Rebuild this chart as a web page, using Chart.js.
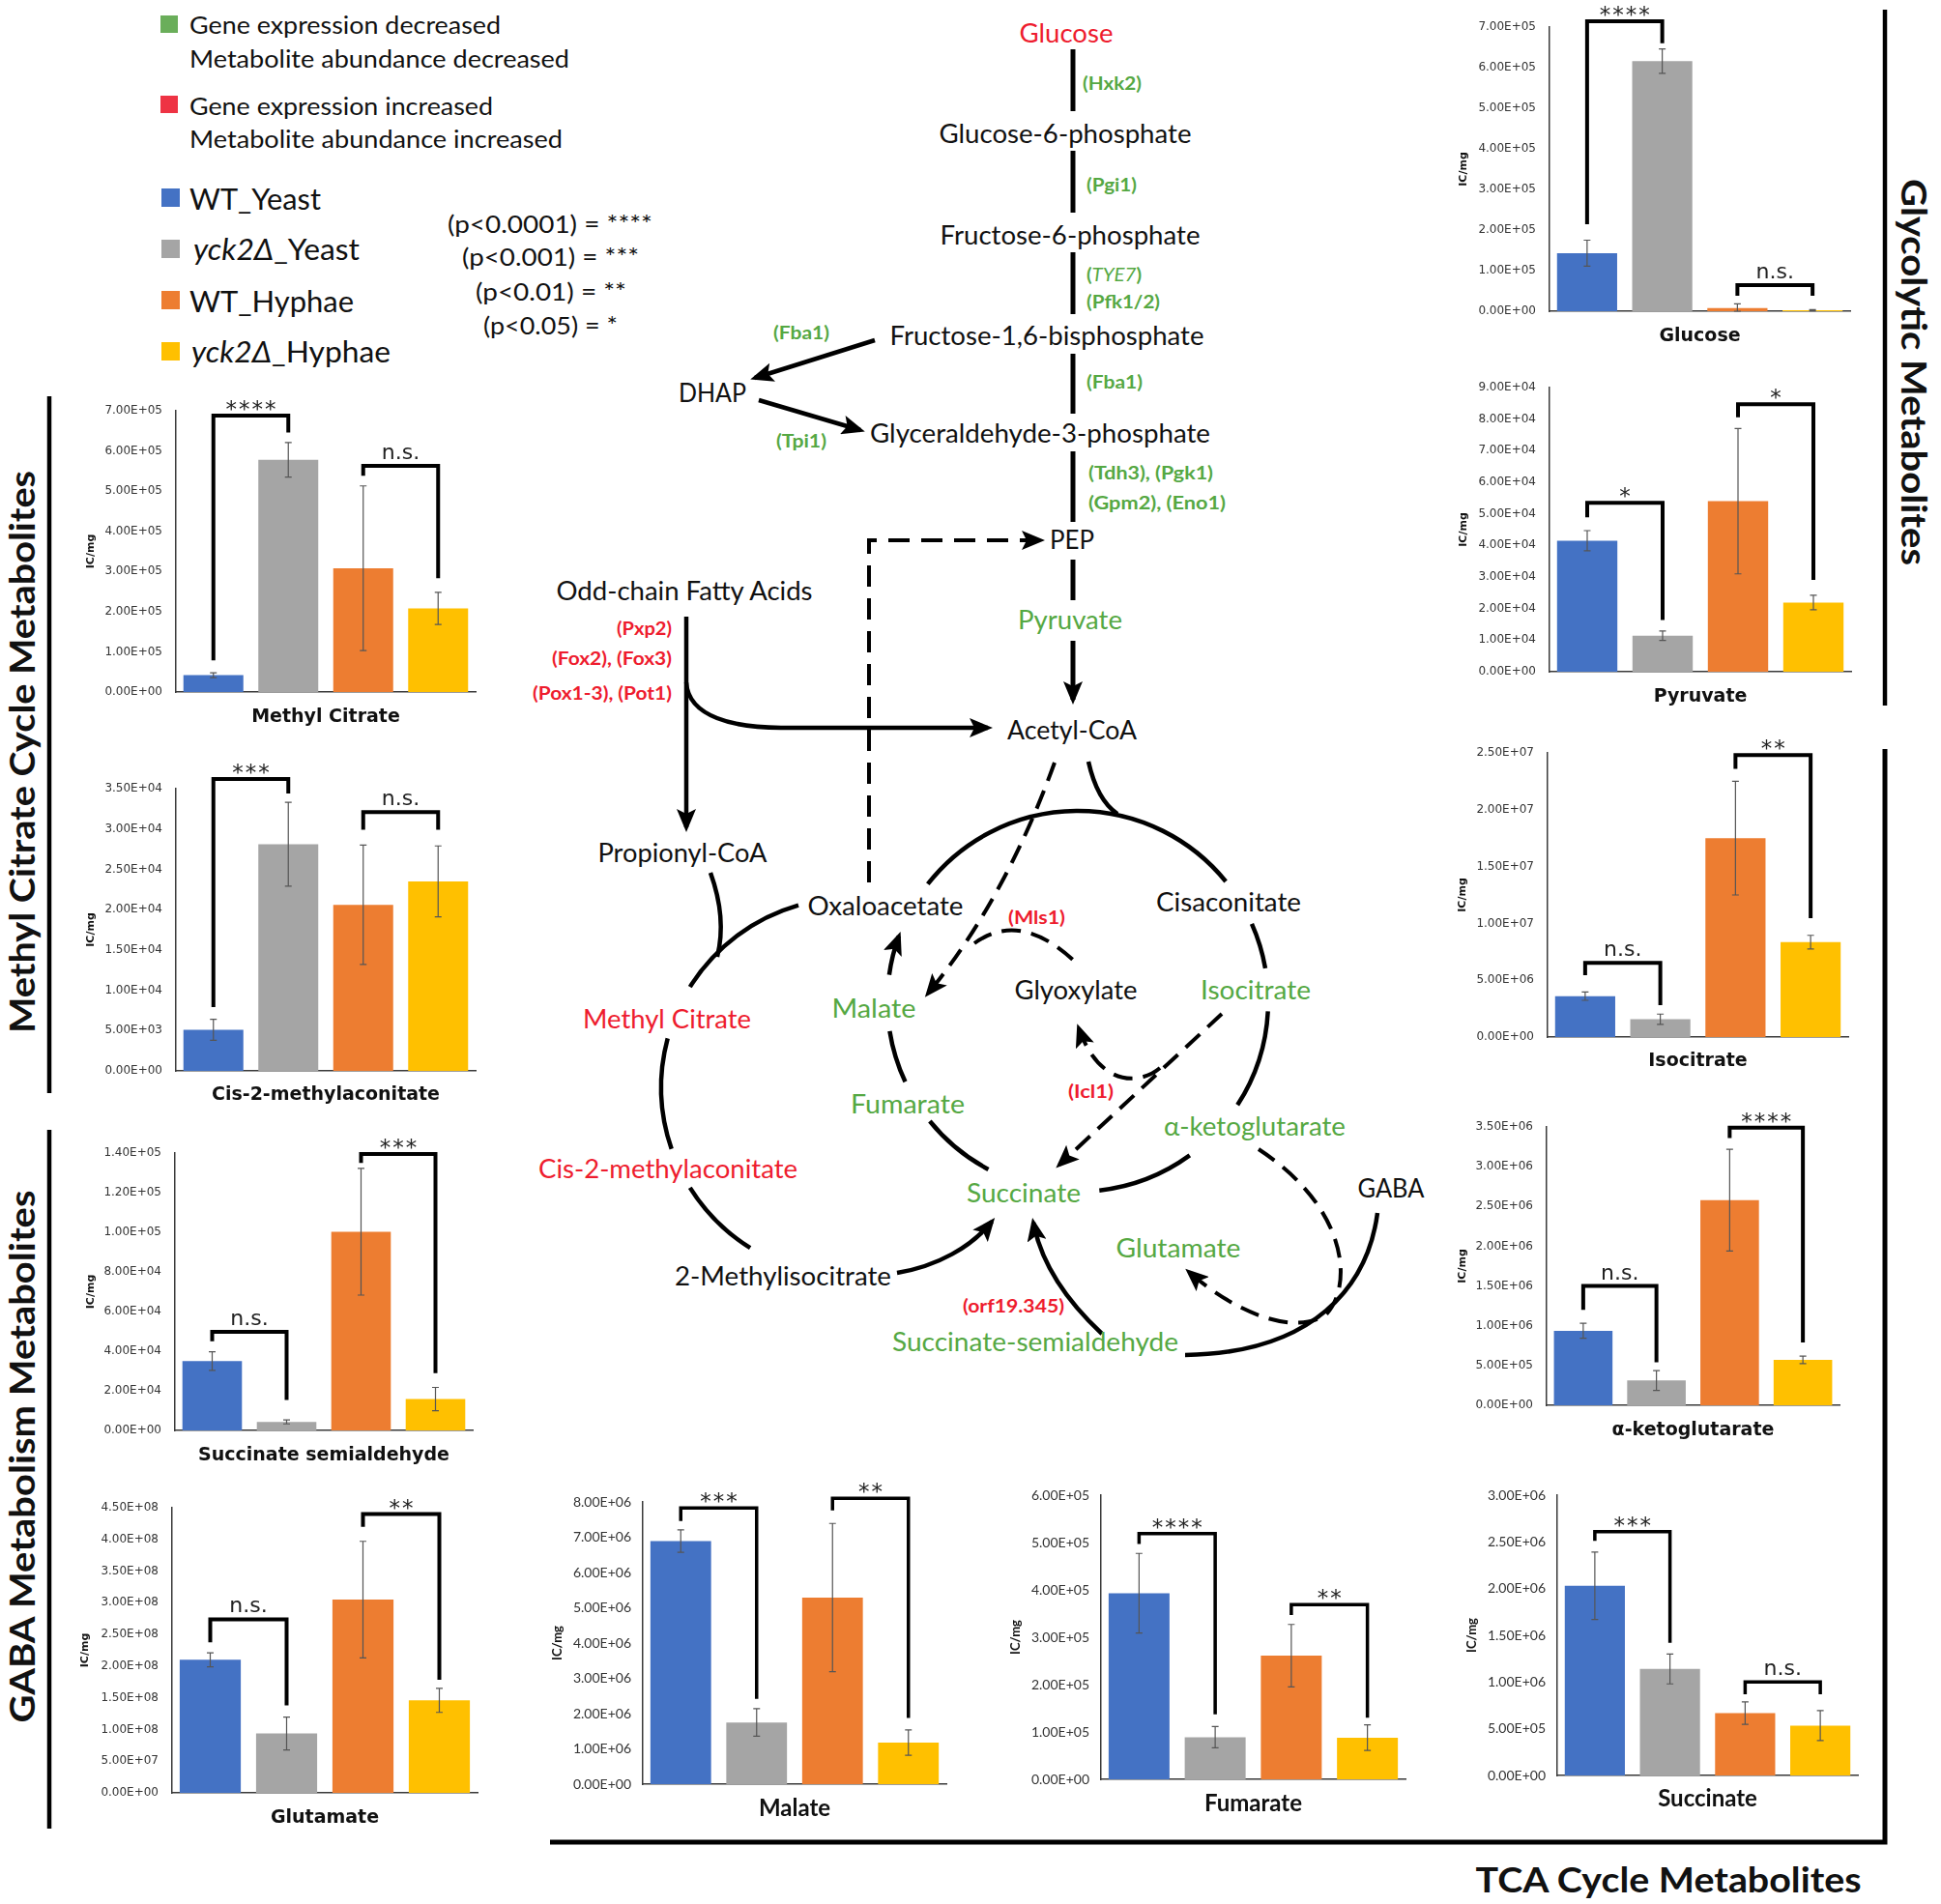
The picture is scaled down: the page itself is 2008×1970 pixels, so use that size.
<!DOCTYPE html>
<html>
<head>
<meta charset="utf-8">
<script src="https://cdn.jsdelivr.net/npm/chart.js@4.4.1/dist/chart.umd.min.js"></script>
<style>
html,body{margin:0;padding:0;background:#fff;}
#page{position:relative;width:2008px;height:1970px;overflow:hidden;background:#fff;}
#art{position:absolute;left:0;top:0;}
#page canvas{position:absolute;}
</style>
</head>
<body>
<div id="page"><svg id="art" width="2008" height="1970" xmlns="http://www.w3.org/2000/svg"></svg></div>
<script>
// ---- data ----
const metabolites = ['Glucose','Pyruvate','Methyl Citrate','Cis-2-methylaconitate','Succinate semialdehyde','Glutamate','Isocitrate','α-ketoglutarate','Malate','Fumarate','Succinate'];
const groups = ['WT_Yeast','yck2Δ_Yeast','WT_Hyphae','yck2Δ_Hyphae'];

const wtYeast    = [1.43e5, 4.15e4, 4.2e4, 5.1e3, 3.5e4, 2.10e8, 3.6e6, 9.37e5, 6.89e6, 3.93e5, 2.03e6];
const yckYeast   = [6.16e5, 1.14e4, 5.78e5, 2.81e4, 4.3e3, 9.37e7, 1.57e6, 3.12e5, 1.75e6, 8.9e4, 1.14e6];
const wtHyphae   = [8e3, 5.4e4, 3.08e5, 2.06e4, 1.003e5, 3.05e8, 1.75e7, 2.58e6, 5.29e6, 2.61e5, 6.68e5];
const yckHyphae  = [2.2e3, 2.19e4, 2.08e5, 2.35e4, 1.58e4, 1.46e8, 8.35e6, 5.72e5, 1.18e6, 8.8e4, 5.34e5];

const errWtYeast   = [3.2e4, 3.2e3, 6e3, 1.3e3, 4.7e3, 1.1e7, 3.7e5, 9.5e4, 3.2e5, 8.4e4, 3.6e5];
const errYckYeast  = [3e4, 1.5e3, 4.3e4, 5.2e3, 1e3, 2.6e7, 4.5e5, 1.25e5, 3.9e5, 2.25e4, 1.6e5];
const errWtHyphae  = [1e4, 2.3e4, 2.05e5, 7.4e3, 3.2e4, 9.2e7, 5e6, 6.4e5, 2.1e6, 6.6e4, 1.2e5];
const errYckHyphae = [1.5e3, 2.3e3, 4e4, 4.4e3, 5.9e3, 1.9e7, 6e5, 4.7e4, 3.6e5, 2.7e4, 1.6e5];

const yMax  = [7e5, 9e4, 7e5, 3.5e4, 1.4e5, 4.5e8, 2.5e7, 3.5e6, 8e6, 6e5, 3e6];
const yStep = [1e5, 1e4, 1e5, 5e3, 2e4, 5e7, 5e6, 5e5, 1e6, 1e5, 5e5];

const sigYeast  = ['****','*','****','***','n.s.','n.s.','n.s.','n.s.','***','****','***'];
const sigHyphae = ['n.s.','*','n.s.','n.s.','***','**','**','****','**','**','n.s.'];
// bracket [top, left leg end, right leg end] in axis units
const brYeast  = [[7.14e5,2.14e5,6.6e5],[5.35e4,4.89e4,1.64e4],[6.88e5,7.9e4,6.46e5],[3.62e4,7.9e3,3.44e4],[4.97e4,4.5e4,1.54e4],[2.74e8,2.375e8,1.38e8],[6.53e6,5.45e6,2.8e6],[1.5e6,1.2e6,5.4e5],[7.83e6,7.46e6,2.42e6],[5.19e5,4.97e5,1.37e5],[2.61e6,2.51e6,1.42e6]];
const brHyphae = [[6.4e4,3.8e4,3.8e4],[8.47e4,8.06e4,2.91e4],[5.63e5,5.38e5,2.83e5],[3.21e4,2.99e4,2.99e4],[1.395e5,1.35e5,2.89e4],[4.40e8,4.2e8,1.785e8],[2.48e7,2.36e7,1.045e7],[3.49e6,3.36e6,7.9e5],[8.1e6,7.76e6,1.88e6],[3.69e5,3.47e5,1.30e5],[1.0e6,8.7e5,8.7e5]];

const colors = ['#4472c4','#a5a5a5','#ed7d31','#ffc000'];

// ---- panel placement (plot box in page px) ----
const panels = [
  {L:1603,R:1914,T:28,B:322,ty:348,tx:1515,s:'a'},
  {L:1603,R:1915,T:401,B:695,ty:721,tx:1515,s:'a'},
  {L:182,R:492,T:425,B:716,ty:742,tx:95,s:'a'},
  {L:182,R:492,T:816,B:1108,ty:1133,tx:95,s:'a'},
  {L:181,R:489,T:1193,B:1480,ty:1506,tx:95,s:'a'},
  {L:178,R:494,T:1560,B:1855,ty:1881,tx:89,s:'a'},
  {L:1601,R:1912,T:779,B:1073,ty:1098,tx:1514,s:'a'},
  {L:1600,R:1903,T:1166,B:1454,ty:1480,tx:1514,s:'a'},
  {L:665,R:979,T:1554,B:1846,ty:1872,tx:577,s:'b'},
  {L:1139,R:1454,T:1547,B:1841,ty:1867,tx:1051,s:'b'},
  {L:1611,R:1922,T:1547,B:1837,ty:1862,tx:1523,s:'b'}
];
const styles = {
  a:{family:'"DejaVu Sans"',tick:12,yt:11,xt:19,tfam:'"DejaVu Sans"',pad:14,bw:4},
  b:{family:'Lato',tick:14,yt:13,xt:24,tfam:'Lato',pad:12,bw:3.5}
};

function sci(v){
  if(v===0) return '0.00E+00';
  const [m,e]=Number(v).toExponential(2).split('e');
  const n=parseInt(e,10);
  return m.toUpperCase()+'E'+(n<0?'-':'+')+String(Math.abs(n)).padStart(2,'0');
}

function marks(k){
  const vals=[wtYeast[k],yckYeast[k],wtHyphae[k],yckHyphae[k]];
  const errs=[errWtYeast[k],errYckYeast[k],errWtHyphae[k],errYckHyphae[k]];
  const st=styles[panels[k].s];
  return {
    id:'marks'+k,
    afterDatasetsDraw(chart){
      const ctx=chart.ctx, y=chart.scales.y;
      const bars=chart.getDatasetMeta(0).data;
      ctx.save();
      ctx.strokeStyle='#555'; ctx.lineWidth=1.2;
      vals.forEach((v,i)=>{
        const x=bars[i].x;
        const y1=y.getPixelForValue(v+errs[i]);
        const y2=y.getPixelForValue(Math.max(0,v-errs[i]));
        ctx.beginPath();
        ctx.moveTo(x,y1);ctx.lineTo(x,y2);
        ctx.moveTo(x-3.5,y1);ctx.lineTo(x+3.5,y1);
        ctx.moveTo(x-3.5,y2);ctx.lineTo(x+3.5,y2);
        ctx.stroke();
      });
      const brs=[[0,1,brYeast[k],sigYeast[k]],[2,3,brHyphae[k],sigHyphae[k]]];
      ctx.strokeStyle='#000'; ctx.lineWidth=st.bw; ctx.lineJoin='miter';
      ctx.fillStyle='#222'; ctx.textAlign='center'; ctx.textBaseline='alphabetic';
      brs.forEach(([a,b,h,lab])=>{
        const xa=bars[a].x, xb=bars[b].x;
        const yt=y.getPixelForValue(h[0]);
        ctx.beginPath();
        ctx.moveTo(xa,y.getPixelForValue(h[1]));
        ctx.lineTo(xa,yt);ctx.lineTo(xb,yt);
        ctx.lineTo(xb,y.getPixelForValue(h[2]));
        ctx.stroke();
        const xm=(xa+xb)/2;
        if(lab==='n.s.'){
          ctx.font='22px "DejaVu Sans"';
          ctx.fillText(lab,xm,yt-7);
        }else{
          ctx.font='23px "DejaVu Sans"';
          const n=lab.length, gap=13.5;
          for(let i=0;i<n;i++) ctx.fillText('*',xm+(i-(n-1)/2)*gap,yt+1);
        }
      });
      ctx.restore();
    }
  };
}

const page=document.getElementById('page');
panels.forEach((p,k)=>{
  const st=styles[p.s];
  const padTop=Math.min(p.T,48);
  const left=Math.round(p.tx-st.yt*0.6);
  const yW=p.L-left;
  const xH=Math.round(p.ty-p.B+st.xt*0.6);
  const W=p.R-left+14;
  const H=padTop+(p.B-p.T)+xH;
  const cv=document.createElement('canvas');
  cv.width=W; cv.height=H;
  cv.style.left=left+'px'; cv.style.top=(p.T-padTop)+'px';
  cv.style.width=W+'px'; cv.style.height=H+'px';
  page.appendChild(cv);
  new Chart(cv,{
    type:'bar',
    data:{labels:groups,datasets:[{data:[wtYeast[k],yckYeast[k],wtHyphae[k],yckHyphae[k]],backgroundColor:colors,borderWidth:0,barPercentage:0.8,categoryPercentage:1}]},
    options:{
      responsive:false,animation:false,devicePixelRatio:1,
      layout:{padding:{top:padTop,right:14,left:0,bottom:0}},
      plugins:{legend:{display:false},tooltip:{enabled:false}},
      scales:{
        x:{ticks:{display:false},grid:{display:false,drawTicks:false},border:{display:true,color:'#3a3a3a',width:1.5},
           title:{display:true,text:metabolites[k],padding:0,color:'#111',font:{family:st.tfam,size:st.xt,weight:'bold'}},
           afterFit:s=>{s.height=xH;}},
        y:{min:0,max:yMax[k],
           ticks:{stepSize:yStep[k],padding:st.pad,color:'#333',autoSkip:false,font:{family:st.family,size:st.tick},callback:v=>sci(v)},
           grid:{display:false,drawTicks:false},border:{display:true,color:'#3a3a3a',width:1.5},
           title:{display:true,text:'IC/mg',padding:0,color:'#111',font:{family:st.family,size:st.yt,weight:'bold'}},
           afterFit:s=>{s.width=yW;}}
      }
    },
    plugins:[marks(k)]
  });
});

// ---- pathway diagram, legend and section titles ----
const NS='http://www.w3.org/2000/svg';
const svg=document.getElementById('art');
function el(tag,attrs,parent){
  const e=document.createElementNS(NS,tag);
  for(const a in attrs) e.setAttribute(a,attrs[a]);
  (parent||svg).appendChild(e);
  return e;
}
function txt(x,y,parts,o){
  o=o||{};
  const t=el('text',{x:x,y:y,'font-size':o.size||27,'font-family':o.family||'Lato','fill':o.fill||'#111',
    'text-anchor':o.anchor||'middle','dominant-baseline':'central','font-weight':o.weight||'normal'});
  if(o.w){t.setAttribute('textLength',o.w);t.setAttribute('lengthAdjust','spacingAndGlyphs');}
  if(o.rot) t.setAttribute('transform','rotate('+o.rot+' '+x+' '+y+')');
  if(typeof parts==='string') t.textContent=parts;
  else parts.forEach(([s,sty])=>{
    const ts=el('tspan',{},t); ts.textContent=s;
    if(sty&&sty.italic) ts.setAttribute('font-style','italic');
    if(sty&&sty.weight) ts.setAttribute('font-weight',sty.weight);
  });
  return t;
}
const defs=el('defs',{});
const mk=el('marker',{id:'ah',markerWidth:24,markerHeight:20,refX:19,refY:10,orient:'auto',markerUnits:'userSpaceOnUse'},defs);
el('path',{d:'M0,0 L24,10 L0,20 L5,10 z',fill:'#000'},mk);

function line(d,o){
  o=o||{};
  const p=el('path',{d:d,fill:'none',stroke:'#000','stroke-width':o.w||4.5});
  if(o.dash) p.setAttribute('stroke-dasharray',o.dash);
  if(o.arrow) p.setAttribute('marker-end','url(#ah)');
  return p;
}
function arc(cx,cy,r,a1,a2){
  const t=a=>a*Math.PI/180;
  const x1=cx+r*Math.cos(t(a1)),y1=cy+r*Math.sin(t(a1));
  const x2=cx+r*Math.cos(t(a2)),y2=cy+r*Math.sin(t(a2));
  return 'M'+x1.toFixed(1)+','+y1.toFixed(1)+' A'+r+','+r+' 0 '+((a2-a1)>180?1:0)+' 1 '+x2.toFixed(1)+','+y2.toFixed(1);
}
const GREEN='#55a843', RED='#ee1c2e';

// legend
el('rect',{x:166,y:16,width:18,height:18,fill:'#6aae5a'});
txt(196,25,'Gene expression decreased',{anchor:'start',size:25,w:322});
txt(196,60,'Metabolite abundance decreased',{anchor:'start',size:25,w:393});
el('rect',{x:166,y:99,width:18,height:18,fill:'#ee3344'});
txt(196,109,'Gene expression increased',{anchor:'start',size:25,w:314});
txt(196,143,'Metabolite abundance increased',{anchor:'start',size:25,w:386});
el('rect',{x:167,y:195,width:19,height:19,fill:colors[0]});
txt(196,205,'WT_Yeast',{anchor:'start',size:30,w:136});
el('rect',{x:167,y:248,width:19,height:19,fill:colors[1]});
txt(200,257,[['yck2Δ',{italic:true}],['_Yeast']],{anchor:'start',size:30,w:172});
el('rect',{x:167,y:301,width:19,height:19,fill:colors[2]});
txt(196,311,'WT_Hyphae',{anchor:'start',size:30,w:170});
el('rect',{x:167,y:354,width:19,height:19,fill:colors[3]});
txt(198,363,[['yck2Δ',{italic:true}],['_Hyphae']],{anchor:'start',size:30,w:206});
txt(463,231,'(p<0.0001) = ****',{anchor:'start',size:25,w:212});
txt(478,265,'(p<0.001) = ***',{anchor:'start',size:25,w:183});
txt(492,301,'(p<0.01) = **',{anchor:'start',size:25,w:156});
txt(500,336,'(p<0.05) = *',{anchor:'start',size:25,w:139});

// glycolysis
[[51,115],[156,220],[261,325],[366,428],[467,540],[579,621]].forEach(([a,b])=>line('M1110,'+a+' L1110,'+b,{w:5}));
line('M1110,663 L1110,724',{w:5,arrow:true});
line('M905,352 L781,391',{arrow:true});
line('M785,414 L890,445',{arrow:true});

txt(1103,33,'Glucose',{fill:RED,w:97});
txt(1102,137,'Glucose-6-phosphate',{w:261});
txt(1107,242,'Fructose-6-phosphate',{w:269});
txt(1083,346,'Fructose-1,6-bisphosphate',{w:325});
txt(737,405,'DHAP',{w:70});
txt(1076,447,'Glyceraldehyde-3-phosphate',{w:352});
txt(1109,557,'PEP',{w:46});
txt(1107,640,'Pyruvate',{fill:GREEN,w:108});
txt(1109,754,'Acetyl-CoA',{w:134});

const eg={anchor:'start',size:19,weight:'bold',fill:GREEN,family:'Lato'};
txt(1120,85,'(Hxk2)',Object.assign({w:61},eg));
txt(1124,190,'(Pgi1)',Object.assign({w:52},eg));
txt(1124,283,[['('],['TYE7',{italic:true,weight:'normal'}],[')']],Object.assign({w:57},eg));
txt(1124,311,'(Pfk1/2)',Object.assign({w:76},eg));
txt(1124,394,'(Fba1)',Object.assign({w:58},eg));
txt(800,343,'(Fba1)',Object.assign({w:58},eg));
txt(803,455,'(Tpi1)',Object.assign({w:52},eg));
txt(1126,488,'(Tdh3), (Pgk1)',Object.assign({w:129},eg));
txt(1126,519,'(Gpm2), (Eno1)',Object.assign({w:142},eg));

// fatty acid branch
txt(708,610,'Odd-chain Fatty Acids',{w:265});
const er={anchor:'end',size:19,weight:'bold',fill:RED,family:'Lato'};
txt(695,649,'(Pxp2)',Object.assign({w:57},er));
txt(695,680,'(Fox2), (Fox3)',Object.assign({w:124},er));
txt(695,716,'(Pox1-3), (Pot1)',Object.assign({w:144},er));
line('M710,638 L710,856',{arrow:true});
line('M710,706 C712,742 760,753 808,753 L1022,753',{arrow:true});
line('M899,913 L899,559 L1076,559',{w:4,dash:'22 12',arrow:true});

// TCA cycle
const tc=[1115,1036,197];
[[218,321],[336,350],[363,393],[54,83.5],[118,141],[155,171]].forEach(([a,b])=>line(arc(tc[0],tc[1],tc[2],a,b)));
line(arc(tc[0],tc[1],tc[2],188,200),{arrow:true});
line('M1126,788 Q1135,828 1156,842');
// methyl citrate cycle
const mc=[880,1125,196];
[[212,254],[161,195],[122,148]].forEach(([a,b])=>line(arc(mc[0],mc[1],mc[2],a,b)));
line('M735,903 Q752,950 742,990');
line('M928,1317 C970,1310 1005,1290 1026,1264',{arrow:true});
// glyoxylate shunt (dashed)
line('M1091,789 Q1040,930 960,1028',{w:4,dash:'20 11',arrow:true});
line('M1008,976 Q1055,942 1111,994',{w:4,dash:'20 11'});
line('M1264,1049 L1096,1205',{w:4,dash:'20 11',arrow:true});
line('M1200,1105 C1180,1122 1138,1126 1116,1064',{w:4,dash:'20 11',arrow:true});
// GABA shunt
line('M1302,1189 C1395,1250 1400,1330 1372,1360 C1340,1382 1280,1360 1230,1316',{w:4,dash:'20 11',arrow:true});
line('M1425,1255 C1415,1330 1360,1400 1226,1402');
line('M1140,1380 C1110,1352 1078,1312 1069,1265',{arrow:true});

txt(706,881,'Propionyl-CoA',{w:175});
txt(916,936,'Oxaloacetate',{w:161});
txt(1271,932,'Cisaconitate',{w:150});
txt(904,1042,'Malate',{fill:GREEN,w:87});
txt(1113,1023,'Glyoxylate',{w:127});
txt(1299,1023,'Isocitrate',{fill:GREEN,w:114});
txt(690,1053,'Methyl Citrate',{fill:RED,w:174});
txt(939,1141,'Fumarate',{fill:GREEN,w:118});
txt(1298,1164,'α-ketoglutarate',{fill:GREEN,w:188});
txt(691,1208,'Cis-2-methylaconitate',{fill:RED,w:268});
txt(1059,1233,'Succinate',{fill:GREEN,w:118});
txt(1439,1228,'GABA',{w:69});
txt(1219,1290,'Glutamate',{fill:GREEN,w:129});
txt(810,1319,'2-Methylisocitrate',{w:224});
txt(1071,1387,'Succinate-semialdehyde',{fill:GREEN,w:296});
txt(1043,948,'(Mls1)',Object.assign({},er,{anchor:'start',w:59}));
txt(1105,1128,'(Icl1)',Object.assign({},er,{anchor:'start',w:47}));
txt(996,1350,'(orf19.345)',Object.assign({},er,{anchor:'start',w:105}));

// section frames and titles
line('M1950,10 L1950,730',{w:4.5});
line('M51,410 L51,1131',{w:4.5});
line('M51,1169 L51,1892',{w:4.5});
line('M569,1906 L1950,1906 L1950,775',{w:5});
const sec={size:36,weight:'bold',family:'Lato'};
txt(1981,385,'Glycolytic Metabolites',Object.assign({rot:90,w:400},sec));
txt(22,778,'Methyl Citrate Cycle Metabolites',Object.assign({rot:-90,w:582},sec));
txt(22,1507,'GABA Metabolism Metabolites',Object.assign({rot:-90,w:551},sec));
txt(1726,1944,'TCA Cycle Metabolites',Object.assign({w:399},sec));
</script>
</body>
</html>
